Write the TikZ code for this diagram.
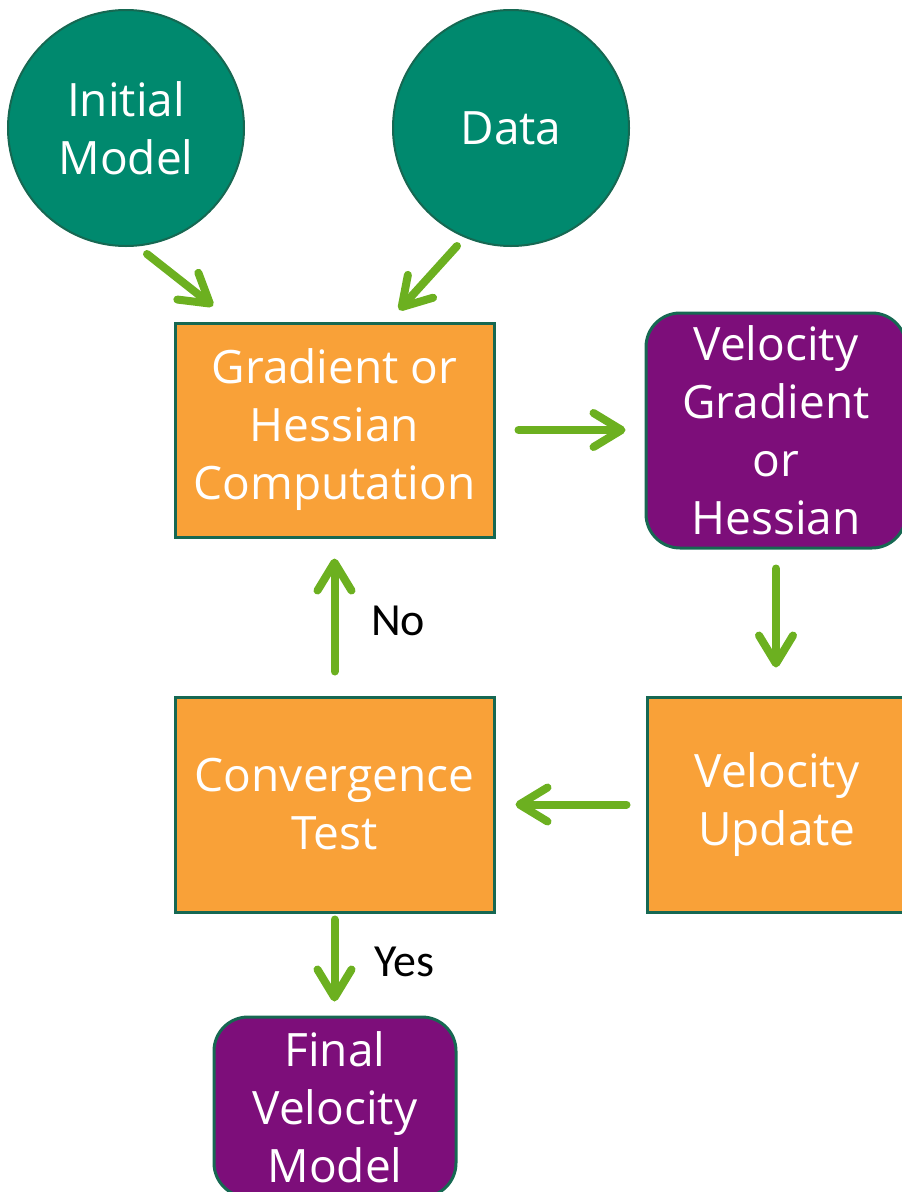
\documentclass[tikz,border=0pt]{standalone}
\usepackage{fontspec}
\setmainfont{Open Sans}
\newfontfamily\lblfont{Carlito}
\usetikzlibrary{arrows.meta}
\definecolor{tealf}{RGB}{0,137,110}
\definecolor{tealline}{RGB}{22,104,82}
\definecolor{orangef}{RGB}{249,161,56}
\definecolor{purplef}{RGB}{125,14,122}
\definecolor{greenarr}{RGB}{108,176,32}
\begin{document}
\begin{tikzpicture}[x=1pt,y=-1pt,
  txt/.style={text=white,font=\fontsize{46}{58}\selectfont,align=center,inner sep=0pt},
  circ/.style={txt,circle,fill=tealf,draw=tealline,line width=2pt,minimum size=236pt},
  obox/.style={txt,rectangle,fill=orangef,draw=tealline,line width=3pt},
  pbox/.style={txt,rectangle,rounded corners=34pt,fill=purplef,draw=tealline,line width=3pt},
  conn/.style={draw=greenarr,line width=8pt,line cap=round,-{Straight Barb[round,length=28pt,width=34pt]}},
  lbl/.style={font=\lblfont\fontsize{46}{50}\selectfont,text=black,inner sep=0pt}]
\useasboundingbox (0,0) rectangle (902,1192);
\clip (0,0) rectangle (902,1192);
\node[circ] (im) at (126,128) {Initial\\Model};
\node[circ] (da) at (511,128) {Data};
\node[obox,minimum width=319pt,minimum height=214pt] (gh) at (334.5,430) {Gradient or\\Hessian\\Computation};
\node[pbox,minimum width=260pt,minimum height=235pt] (vg) at (776,430.5) {Velocity\\Gradient\\or\\Hessian};
\node[obox,minimum width=260pt,minimum height=215pt] (vu) at (777,804.5) {Velocity\\Update};
\node[obox,minimum width=319pt,minimum height=215pt] (ct) at (334.5,804.5) {Convergence\\Test};
\node[pbox,minimum width=242pt,minimum height=180pt] (fv) at (335,1107) {Final\\Velocity\\Model};
\node[lbl] (no) at (398,621) {No};
\node[lbl] (yes) at (404,962) {Yes};
\coordinate (a1s) at (147,254);
\coordinate (a1e) at (213,306);
\coordinate (a2s) at (457,246);
\coordinate (a2e) at (399,310);
\draw[conn] (a1s) -- (a1e);
\draw[conn] (a2s) -- (a2e);
\draw[conn,shorten <=23pt,shorten >=19pt] (gh.east) -- (gh.east -| vg.west);
\draw[conn,shorten <=19pt,shorten >=28pt] (vg.south) -- (vg.south |- vu.north);
\draw[conn,shorten <=19pt,shorten >=20pt] (vu.west) -- (vu.west -| ct.east);
\draw[conn,shorten <=24pt,shorten >=20pt] (ct.north) -- (gh.south);
\draw[conn,shorten <=6pt,shorten >=14pt] (ct.south) -- (ct.south |- fv.north);
\end{tikzpicture}
\end{document}
